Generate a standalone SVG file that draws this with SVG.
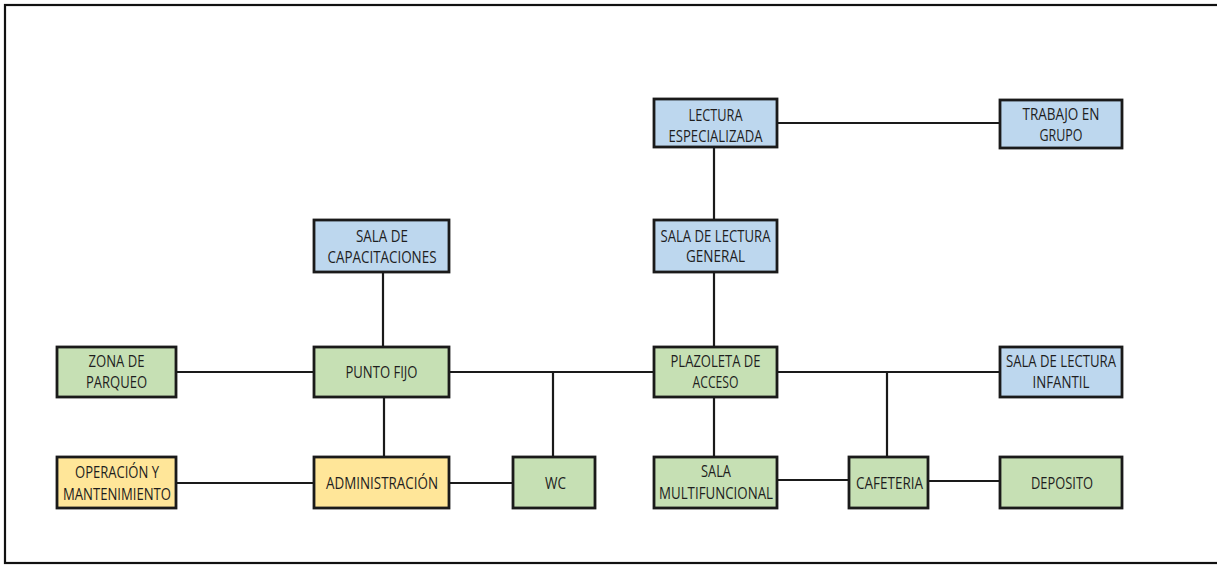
<svg xmlns="http://www.w3.org/2000/svg" width="1217" height="565" viewBox="0 0 1217 565">
<style>
.n rect{stroke:#1a1a1a;stroke-width:2.8}
.b{fill:#BDD7EE}.g{fill:#C6E0B4}.y{fill:#FFE699}
text{font-family:"Open Sans","Liberation Sans",sans-serif;font-size:15.5px;fill:#1e1e1e;text-anchor:middle}
#connectors line{stroke:#1a1a1a;stroke-width:2.2}
</style>
<rect x="0" y="0" width="1217" height="565" fill="#ffffff"/>
<rect x="5" y="5" width="1225" height="558" fill="none" stroke="#111" stroke-width="2.2"/>
<g id="connectors">
<line x1="777" y1="123" x2="1000" y2="123"/>
<line x1="714" y1="147" x2="714" y2="220"/>
<line x1="714" y1="272" x2="714" y2="347"/>
<line x1="383" y1="272" x2="383" y2="347"/>
<line x1="176" y1="372" x2="314" y2="372"/>
<line x1="449" y1="372" x2="654" y2="372"/>
<line x1="553" y1="372" x2="553" y2="457"/>
<line x1="384" y1="397" x2="384" y2="457"/>
<line x1="176" y1="483" x2="314" y2="483"/>
<line x1="449" y1="483" x2="513" y2="483"/>
<line x1="714" y1="397" x2="714" y2="457"/>
<line x1="777" y1="372" x2="1000" y2="372"/>
<line x1="887" y1="372" x2="887" y2="457"/>
<line x1="777" y1="480" x2="849" y2="480"/>
<line x1="928" y1="481" x2="1000" y2="481"/>
</g>
<g id="lectura-especializada" class="n"><rect class="b" x="654" y="99" width="123" height="48"/><text x="715.5" y="121" textLength="54" lengthAdjust="spacingAndGlyphs">LECTURA</text><text x="715.5" y="142" textLength="94" lengthAdjust="spacingAndGlyphs">ESPECIALIZADA</text></g>
<g id="trabajo-en-grupo" class="n"><rect class="b" x="1000" y="100" width="122" height="48"/><text x="1061" y="120" textLength="77" lengthAdjust="spacingAndGlyphs">TRABAJO EN</text><text x="1061" y="141" textLength="43" lengthAdjust="spacingAndGlyphs">GRUPO</text></g>
<g id="sala-capacitaciones" class="n"><rect class="b" x="314" y="220" width="135" height="52"/><text x="382" y="242" textLength="52" lengthAdjust="spacingAndGlyphs">SALA DE</text><text x="382" y="263" textLength="109" lengthAdjust="spacingAndGlyphs">CAPACITACIONES</text></g>
<g id="sala-lectura-general" class="n"><rect class="b" x="654" y="220" width="123" height="52"/><text x="715.5" y="242" textLength="110" lengthAdjust="spacingAndGlyphs">SALA DE LECTURA</text><text x="715.5" y="262" textLength="59" lengthAdjust="spacingAndGlyphs">GENERAL</text></g>
<g id="zona-parqueo" class="n"><rect class="g" x="57" y="347" width="119" height="50"/><text x="116.5" y="367" textLength="56" lengthAdjust="spacingAndGlyphs">ZONA DE</text><text x="116.5" y="388" textLength="61" lengthAdjust="spacingAndGlyphs">PARQUEO</text></g>
<g id="punto-fijo" class="n"><rect class="g" x="314" y="347" width="135" height="50"/><text x="381.5" y="378" textLength="72" lengthAdjust="spacingAndGlyphs">PUNTO FIJO</text></g>
<g id="plazoleta-acceso" class="n"><rect class="g" x="654" y="347" width="123" height="50"/><text x="715.5" y="367" textLength="90" lengthAdjust="spacingAndGlyphs">PLAZOLETA DE</text><text x="715.5" y="388" textLength="46" lengthAdjust="spacingAndGlyphs">ACCESO</text></g>
<g id="sala-lectura-infantil" class="n"><rect class="b" x="1000" y="347" width="122" height="50"/><text x="1061" y="367" textLength="110" lengthAdjust="spacingAndGlyphs">SALA DE LECTURA</text><text x="1061" y="388" textLength="57" lengthAdjust="spacingAndGlyphs">INFANTIL</text></g>
<g id="operacion-mantenimiento" class="n"><rect class="y" x="57" y="457" width="119" height="51"/><text x="117" y="478" textLength="84" lengthAdjust="spacingAndGlyphs">OPERACIÓN Y</text><text x="117" y="500" textLength="108" lengthAdjust="spacingAndGlyphs">MANTENIMIENTO</text></g>
<g id="administracion" class="n"><rect class="y" x="314" y="457" width="135" height="51"/><text x="382" y="489" textLength="112" lengthAdjust="spacingAndGlyphs">ADMINISTRACIÓN</text></g>
<g id="wc" class="n"><rect class="g" x="513" y="457" width="82" height="51"/><text x="555.5" y="489" textLength="21" lengthAdjust="spacingAndGlyphs">WC</text></g>
<g id="sala-multifuncional" class="n"><rect class="g" x="654" y="457" width="123" height="51"/><text x="716" y="477" textLength="30" lengthAdjust="spacingAndGlyphs">SALA</text><text x="716" y="499" textLength="114" lengthAdjust="spacingAndGlyphs">MULTIFUNCIONAL</text></g>
<g id="cafeteria" class="n"><rect class="g" x="849" y="457" width="79" height="51"/><text x="889.5" y="489" textLength="67" lengthAdjust="spacingAndGlyphs">CAFETERIA</text></g>
<g id="deposito" class="n"><rect class="g" x="1000" y="457" width="122" height="51"/><text x="1062" y="489" textLength="62" lengthAdjust="spacingAndGlyphs">DEPOSITO</text></g>
</svg>
